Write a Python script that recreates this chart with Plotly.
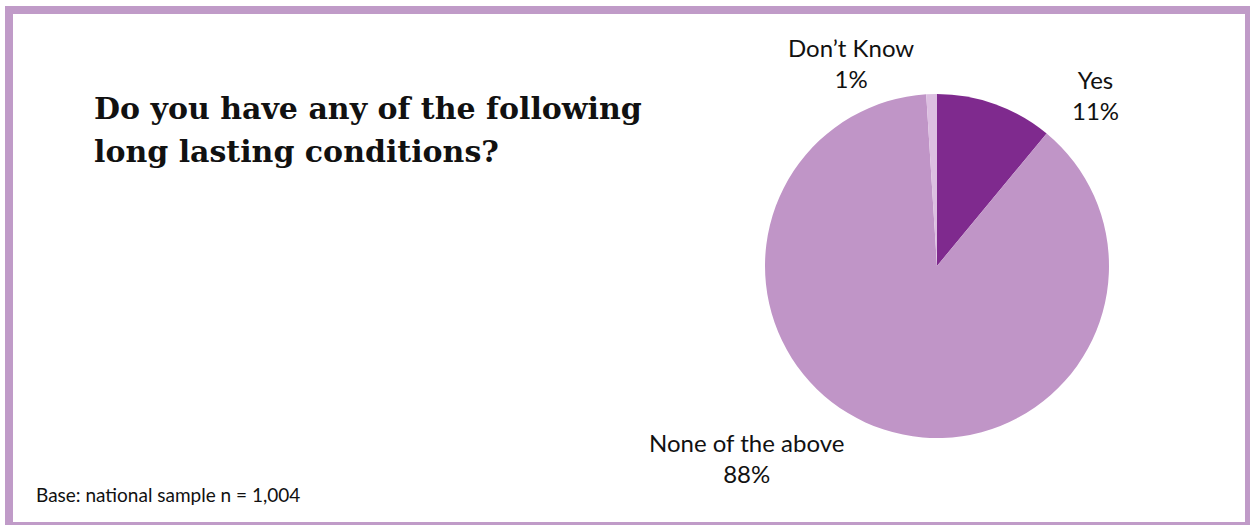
import plotly.graph_objects as go

# Survey responses
categories = ["Yes", "None of the above", "Don't Know"]
values = [11, 88, 1]
colors = ["#7F2A8E", "#C095C7", "#DCBFE1"]

title_lines = ["Do you have any of the following", "long lasting conditions?"]
base_note = "Base: national sample n = 1,004"

W, H = 1250, 525

def px_x(x):
    return x / W

def px_y(y):
    return 1 - y / H

# pie occupies a square box in pixel space
cx, cy, r = 937, 266, 172

fig = go.Figure(
    go.Pie(
        labels=categories,
        values=values,
        marker=dict(colors=colors, line=dict(width=0)),
        sort=False,
        direction="clockwise",
        rotation=0,
        textinfo="none",
        hoverinfo="label+percent",
        showlegend=False,
        domain=dict(x=[px_x(cx - r), px_x(cx + r)], y=[px_y(cy + r), px_y(cy - r)]),
    )
)

label_font = dict(family="Lato, 'Open Sans', sans-serif", size=24, color="#111111")
label_pos = {
    "Yes": (1095, 95),
    "None of the above": (746, 458),
    "Don't Know": (851, 63),
}
annotations = []
for cat, val in zip(categories, values):
    x, y = label_pos[cat]
    name = cat.replace("'", "\u2019")
    annotations.append(
        dict(
            x=px_x(x), y=px_y(y), xref="paper", yref="paper",
            text=f"{name}<br>{val}%",
            showarrow=False, xanchor="center", yanchor="middle",
            align="center", font=label_font,
        )
    )

for i, line in enumerate(title_lines):
    annotations.append(
        dict(
            x=px_x(92), y=px_y(108 + 43 * i), xref="paper", yref="paper",
            text=f"<b>{line}</b>",
            showarrow=False, xanchor="left", yanchor="middle", align="left",
            font=dict(family="'DejaVu Serif', serif", size=30, color="#111111"),
        )
    )

annotations.append(
    dict(
        x=px_x(34), y=px_y(494), xref="paper", yref="paper",
        text=base_note,
        showarrow=False, xanchor="left", yanchor="middle", align="left",
        font=dict(family="Lato, 'Open Sans', sans-serif", size=19, color="#111111"),
    )
)

fig.update_layout(
    width=W,
    height=H,
    margin=dict(l=0, r=0, t=0, b=0),
    paper_bgcolor="white",
    plot_bgcolor="white",
    annotations=annotations,
    shapes=[
        dict(
            type="rect", xref="paper", yref="paper",
            x0=px_x(9), x1=px_x(1249), y0=px_y(526), y1=px_y(10),
            line=dict(color="#C09BC8", width=8),
            fillcolor="rgba(0,0,0,0)",
        )
    ],
)

fig.write_html("out.html")
